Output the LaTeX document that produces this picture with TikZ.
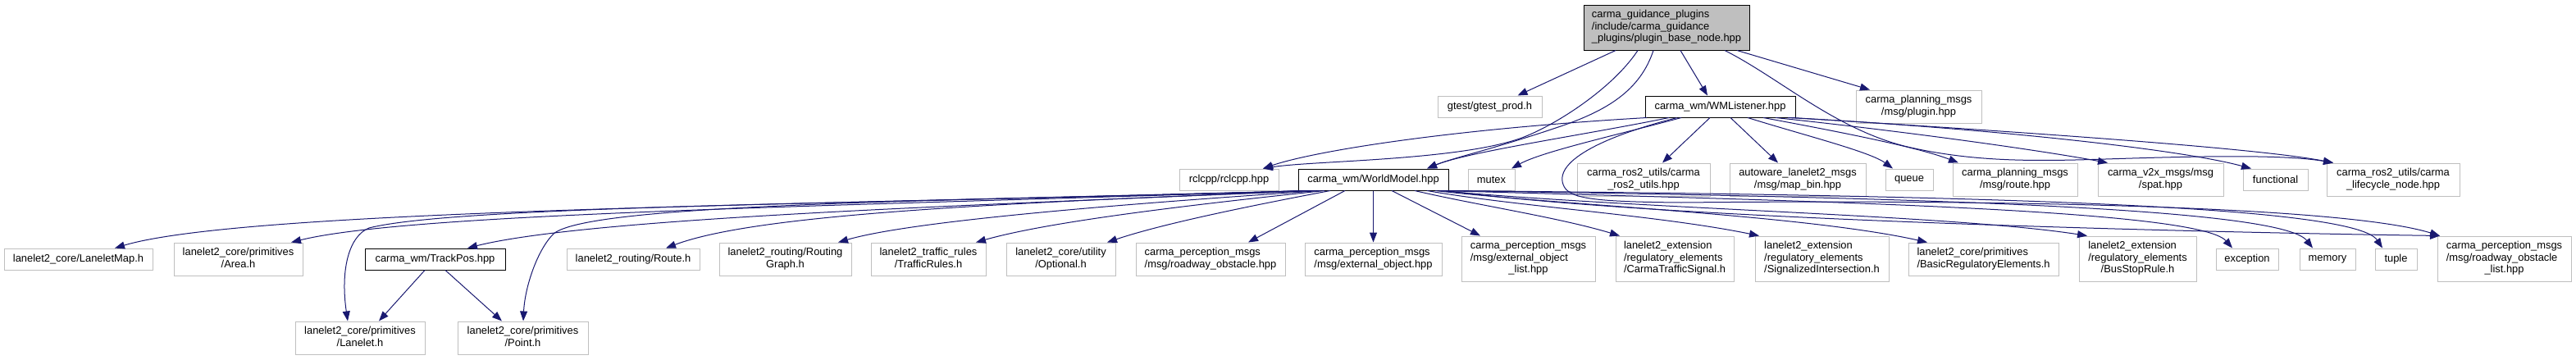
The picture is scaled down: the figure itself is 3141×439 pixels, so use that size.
\documentclass[tikz,border=0pt]{standalone}
\usepackage{fontspec}
\setmainfont{Liberation Sans}
\usetikzlibrary{arrows.meta}
\definecolor{boxgray}{RGB}{191,191,191}
\definecolor{edgeblue}{RGB}{25,25,112}
\newcommand\mlab[1]{\begin{tabular}{@{}l@{}}#1\end{tabular}}
\newcommand\lastc[1]{\multicolumn{1}{@{}c@{}}{#1}}
\tikzset{
  nd/.style={draw=boxgray, fill=white, line width=1pt, inner sep=0pt, text=black,
    font=\fontsize{12.9pt}{14.5pt}\selectfont},
  ndk/.style={nd, draw=black},
  e/.style={draw=edgeblue, line width=1pt, -{Triangle[length=12pt,width=9pt]}},
}
\begin{document}
\begin{tikzpicture}[x=1pt,y=-1pt]
\useasboundingbox (0,0) rectangle (3141,439);
% row 0
\node[ndk, fill=boxgray, minimum width=202pt, minimum height=55pt] (main) at (2032,33.5)
  {\mlab{carma\_guidance\_plugins\\/include/carma\_guidance\\\lastc{\_plugins/plugin\_base\_node.hpp}}};
% row 1
\node[nd, minimum width=127pt, minimum height=26pt] (gtest) at (1816.5,130) {gtest/gtest\_prod.h};
\node[ndk, minimum width=183pt, minimum height=26pt] (wml) at (2097.5,130) {carma\_wm/WMListener.hpp};
\node[nd, minimum width=153pt, minimum height=40pt] (plugin) at (2339.5,130) {\mlab{carma\_planning\_msgs\\\lastc{/msg/plugin.hpp}}};
% row 2
\node[nd, minimum width=121pt, minimum height=26pt] (rclcpp) at (1498.5,219) {rclcpp/rclcpp.hpp};
\node[ndk, minimum width=183pt, minimum height=26pt] (wm) at (1674.5,219) {carma\_wm/WorldModel.hpp};
\node[nd, minimum width=57pt, minimum height=26pt] (mutex) at (1818.5,219) {mutex};
\node[nd, minimum width=162pt, minimum height=40pt] (ros2utils) at (2004,219) {\mlab{carma\_ros2\_utils/carma\\\lastc{\_ros2\_utils.hpp}}};
\node[nd, minimum width=166pt, minimum height=40pt] (mapbin) at (2192,219) {\mlab{autoware\_lanelet2\_msgs\\\lastc{/msg/map\_bin.hpp}}};
\node[nd, minimum width=58pt, minimum height=26pt] (queue) at (2328,219) {queue};
\node[nd, minimum width=152pt, minimum height=40pt] (routehpp) at (2457,219) {\mlab{carma\_planning\_msgs\\\lastc{/msg/route.hpp}}};
\node[nd, minimum width=153pt, minimum height=40pt] (spat) at (2634.5,219) {\mlab{carma\_v2x\_msgs/msg\\\lastc{/spat.hpp}}};
\node[nd, minimum width=79pt, minimum height=26pt] (functional) at (2774.5,219) {functional};
\node[nd, minimum width=162pt, minimum height=40pt] (lifecycle) at (2918,219) {\mlab{carma\_ros2\_utils/carma\\\lastc{\_lifecycle\_node.hpp}}};
% row 3
\node[nd, minimum width=181pt, minimum height=26pt] (laneletmap) at (95.5,316) {lanelet2\_core/LaneletMap.h};
\node[nd, minimum width=157pt, minimum height=40pt] (area) at (290.5,316) {\mlab{lanelet2\_core/primitives\\\lastc{/Area.h}}};
\node[ndk, minimum width=171pt, minimum height=26pt] (trackpos) at (530.5,316) {carma\_wm/TrackPos.hpp};
\node[nd, minimum width=162pt, minimum height=26pt] (routeh) at (772,316) {lanelet2\_routing/Route.h};
\node[nd, minimum width=161pt, minimum height=40pt] (routinggraph) at (957.5,316) {\mlab{lanelet2\_routing/Routing\\\lastc{Graph.h}}};
\node[nd, minimum width=140pt, minimum height=40pt] (trafficrules) at (1132,316) {\mlab{lanelet2\_traffic\_rules\\\lastc{/TrafficRules.h}}};
\node[nd, minimum width=133pt, minimum height=40pt] (optional) at (1293.5,316) {\mlab{lanelet2\_core/utility\\\lastc{/Optional.h}}};
\node[nd, minimum width=182pt, minimum height=40pt] (roadobs) at (1476,316) {\mlab{carma\_perception\_msgs\\\lastc{/msg/roadway\_obstacle.hpp}}};
\node[nd, minimum width=167pt, minimum height=40pt] (extobj) at (1674.5,316) {\mlab{carma\_perception\_msgs\\\lastc{/msg/external\_object.hpp}}};
\node[nd, minimum width=163pt, minimum height=55pt] (extobjlist) at (1863.5,315.5) {\mlab{carma\_perception\_msgs\\/msg/external\_object\\\lastc{\_list.hpp}}};
\node[nd, minimum width=144pt, minimum height=55pt] (carmats) at (2042,315.5) {\mlab{lanelet2\_extension\\/regulatory\_elements\\\lastc{/CarmaTrafficSignal.h}}};
\node[nd, minimum width=163pt, minimum height=55pt] (sigint) at (2221.5,315.5) {\mlab{lanelet2\_extension\\/regulatory\_elements\\\lastc{/SignalizedIntersection.h}}};
\node[nd, minimum width=183pt, minimum height=40pt] (basicreg) at (2418.5,316) {\mlab{lanelet2\_core/primitives\\\lastc{/BasicRegulatoryElements.h}}};
\node[nd, minimum width=143pt, minimum height=55pt] (busstop) at (2606.5,315.5) {\mlab{lanelet2\_extension\\/regulatory\_elements\\\lastc{/BusStopRule.h}}};
\node[nd, minimum width=76pt, minimum height=26pt] (exception) at (2740,316) {exception};
\node[nd, minimum width=68pt, minimum height=26pt] (memory) at (2838,316) {memory};
\node[nd, minimum width=51pt, minimum height=26pt] (tuple) at (2921.5,316) {tuple};
\node[nd, minimum width=163pt, minimum height=55pt] (roadobslist) at (3053.5,315.5) {\mlab{carma\_perception\_msgs\\/msg/roadway\_obstacle\\\lastc{\_list.hpp}}};
% row 4
\node[nd, minimum width=158pt, minimum height=40pt] (lanelet) at (439,412) {\mlab{lanelet2\_core/primitives\\\lastc{/Lanelet.h}}};
\node[nd, minimum width=159pt, minimum height=40pt] (point) at (637.5,412) {\mlab{lanelet2\_core/primitives\\\lastc{/Point.h}}};

% edges from main
\draw[e] ([xshift=-62pt]main.south) -- ([xshift=34pt]gtest.north);
\draw[e] ([xshift=-35pt]main.south) .. controls (1965,110) and (1890,157) .. (1850,170) .. controls (1770,196) and (1600,196) .. ([xshift=41.5pt]rclcpp.north);
\draw[e] ([xshift=-16pt]main.south) .. controls (2000,110) and (1960,135) .. (1900,155) .. controls (1820,182) and (1770,193) .. ([xshift=65.5pt]wm.north);
\draw[e] ([xshift=17pt]main.south) -- ([xshift=-15.5pt]wml.north);
\draw[e] ([xshift=86pt]main.south) -- ([xshift=-59.5pt]plugin.north);
\draw[e] ([xshift=71pt]main.south) .. controls (2170,95) and (2240,160) .. (2330,180) .. controls (2420,200) and (2500,196) .. (2600,193) .. controls (2700,190) and (2790,189) .. ([xshift=-73pt]lifecycle.north);

% edges from WMListener
\draw[e] ([xshift=-89.5pt]wml.south) .. controls (1760,158) and (1600,185) .. ([xshift=41.5pt]rclcpp.north);
\draw[e] ([xshift=-62.5pt]wml.south) .. controls (1930,165) and (1790,185) .. ([xshift=65.5pt]wm.north);
\draw[e] ([xshift=-47.5pt]wml.south) .. controls (1970,165) and (1880,185) .. ([xshift=24.5pt]mutex.north);
\draw[e] ([xshift=-52.5pt]wml.south) .. controls (1960,165) and (1895,195) .. (1906,225) .. controls (1912,242) and (1940,246) .. (2050,247) .. controls (2450,243) and (2860,252) .. ([xshift=-78.5pt]roadobslist.north);
\draw[e] ([xshift=-12.5pt]wml.south) -- ([xshift=23pt]ros2utils.north);
\draw[e] ([xshift=12.5pt]wml.south) -- ([xshift=-24pt]mapbin.north);
\draw[e] ([xshift=33.5pt]wml.south) .. controls (2200,165) and (2280,185) .. ([xshift=-20pt]queue.north);
\draw[e] ([xshift=52.5pt]wml.south) .. controls (2250,162) and (2340,180) .. ([xshift=-69pt]routehpp.north);
\draw[e] ([xshift=67.5pt]wml.south) .. controls (2320,160) and (2480,182) .. ([xshift=-64.5pt]spat.north);
\draw[e] ([xshift=82.5pt]wml.south) .. controls (2400,155) and (2650,180) .. ([xshift=-29.5pt]functional.north);
\draw[e] ([xshift=87.5pt]wml.south) .. controls (2450,160) and (2750,180) .. ([xshift=-73pt]lifecycle.north);

% edges from WorldModel
\draw[e] ([xshift=-84.5pt]wm.south) .. controls (1000,250) and (300,255) .. ([xshift=44.5pt]laneletmap.north);
\draw[e] ([xshift=-82.5pt]wm.south) .. controls (1000,252) and (500,260) .. ([xshift=64.5pt]area.north);
\draw[e] ([xshift=-79.5pt]wm.south) .. controls (1100,248) and (560,250) .. (450,278) .. controls (425,288) and (415,330) .. ([xshift=-15pt]lanelet.north);
\draw[e] ([xshift=-74.5pt]wm.south) .. controls (1200,250) and (720,265) .. ([xshift=39.5pt]trackpos.north);
\draw[e] ([xshift=-72.5pt]wm.south) .. controls (1150,245) and (720,248) .. (675,285) .. controls (655,305) and (640,350) .. ([xshift=0.5pt]point.north);
\draw[e] ([xshift=-69.5pt]wm.south) .. controls (1200,248) and (920,262) .. ([xshift=40pt]routeh.north);
\draw[e] ([xshift=-64.5pt]wm.south) .. controls (1350,250) and (1110,270) .. ([xshift=64.5pt]routinggraph.north);
\draw[e] ([xshift=-59.5pt]wm.south) .. controls (1450,250) and (1280,270) .. ([xshift=58pt]trafficrules.north);
\draw[e] ([xshift=-52.5pt]wm.south) .. controls (1530,250) and (1420,272) .. ([xshift=56.5pt]optional.north);
\draw[e] ([xshift=-34.5pt]wm.south) -- ([xshift=46pt]roadobs.north);
\draw[e] (wm.south) -- (extobj.north);
\draw[e] ([xshift=22.5pt]wm.south) -- ([xshift=-58.5pt]extobjlist.north);
\draw[e] ([xshift=50.5pt]wm.south) .. controls (1800,250) and (1900,265) .. ([xshift=-67pt]carmats.north);
\draw[e] ([xshift=65.5pt]wm.south) .. controls (1850,252) and (2020,262) .. ([xshift=-76.5pt]sigint.north);
\draw[e] ([xshift=75.5pt]wm.south) .. controls (1900,250) and (2200,262) .. ([xshift=-68.5pt]basicreg.north);
\draw[e] ([xshift=80.5pt]wm.south) .. controls (2000,255) and (2380,262) .. ([xshift=-61.5pt]busstop.north);
\draw[e] ([xshift=83.5pt]wm.south) .. controls (2200,245) and (2680,255) .. ([xshift=-18pt]exception.north);
\draw[e] ([xshift=85.5pt]wm.south) .. controls (2300,240) and (2780,252) .. ([xshift=-18pt]memory.north);
\draw[e] ([xshift=87.5pt]wm.south) .. controls (2400,238) and (2870,250) .. ([xshift=-16.5pt]tuple.north);
\draw[e] ([xshift=89.5pt]wm.south) .. controls (2000,265) and (2600,282) .. ([xshift=-78.5pt]roadobslist.north);

% edges from TrackPos
\draw[e] ([xshift=-12.5pt]trackpos.south) -- ([xshift=23pt]lanelet.north);
\draw[e] ([xshift=12.5pt]trackpos.south) -- ([xshift=-25.5pt]point.north);
\end{tikzpicture}
\end{document}
